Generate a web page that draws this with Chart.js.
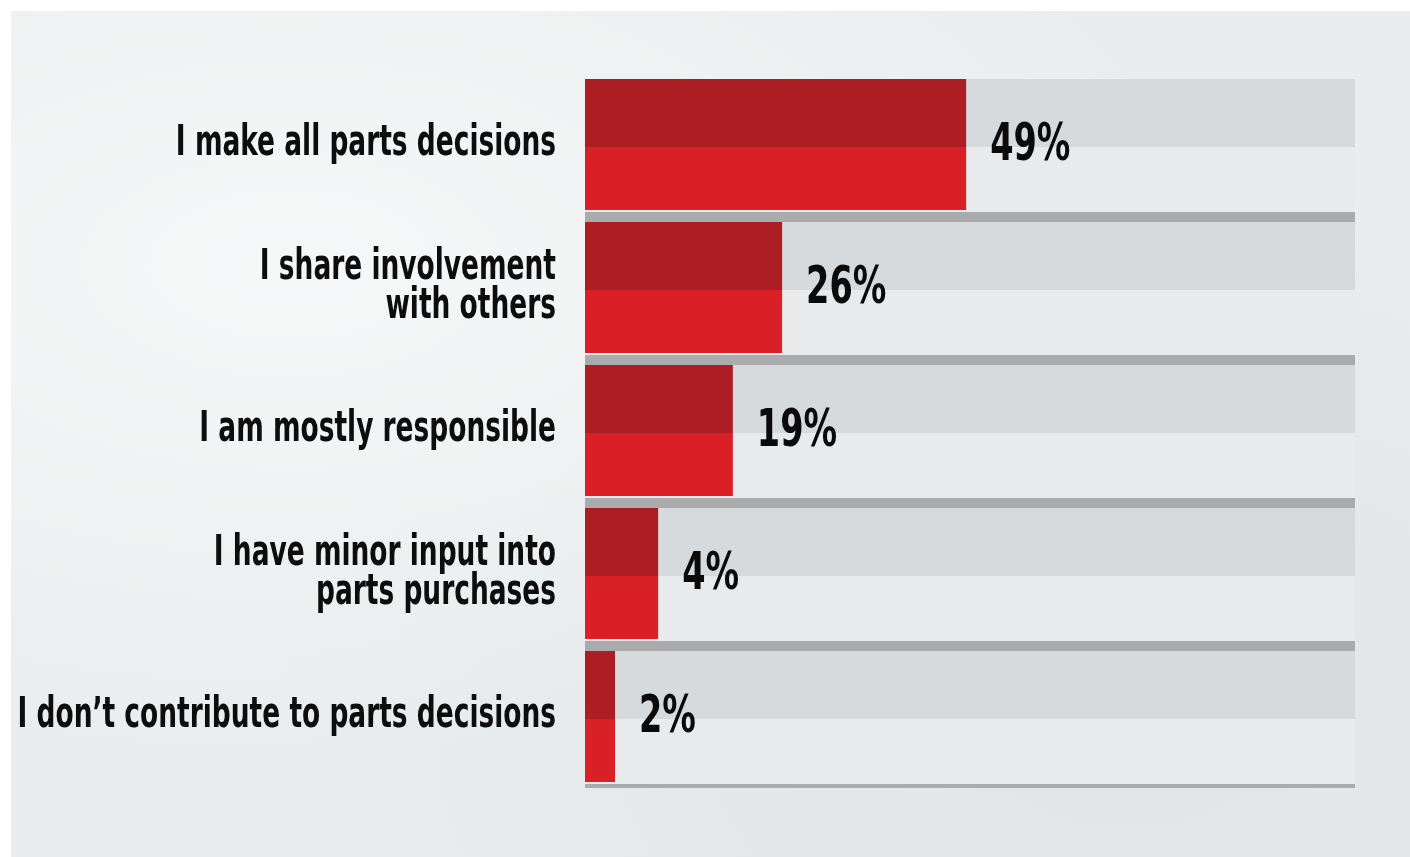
<!DOCTYPE html>
<html><head><meta charset="utf-8">
<script src="https://cdn.jsdelivr.net/npm/chart.js@4.4.1/dist/chart.umd.min.js"></script>
<style>
html,body{margin:0;padding:0;background:#ffffff;}
#wrap{position:relative;width:1410px;height:857px;overflow:hidden;}
#bg{position:absolute;left:11px;top:11px;right:0;bottom:0;
  background:
    radial-gradient(ellipse at 20% 30%, rgba(255,255,255,0.6), rgba(255,255,255,0) 60%),
    radial-gradient(ellipse at 80% 85%, rgba(210,214,218,0.35), rgba(210,214,218,0) 55%),
    #eaeced;}
#c{position:absolute;left:0;top:0;}
</style></head><body>
<div id="wrap"><div id="bg"></div><canvas id="c" width="1410" height="857"></canvas></div>
<script>
// ---- data ----
const categories = [
  "I make all parts decisions",
  ["I share involvement", "with others"],
  "I am mostly responsible",
  ["I have minor input into", "parts purchases"],
  "I don\u2019t contribute to parts decisions"
];
const percentValues = [49, 26, 19, 4, 2];            // printed values
const barLengths = [49.5, 25.6, 19.2, 9.5, 3.9];      // bar lengths as drawn in the picture (% of full track)
const trackValues = [100, 100, 100, 100, 100];        // full-width grey track

// ---- styles ----
const FONT = '"DejaVu Sans Condensed", "DejaVu Sans", sans-serif';
const LABEL_SX = 0.7;   // horizontal squeeze to mimic a condensed display face
const VALUE_SX = 0.73;
const RED_TOP = '#ad1e24', RED_BOTTOM = '#da2027';
const TRACK_TOP = '#d7dadd', TRACK_BOTTOM = '#e9eaeb', SHADOW = '#a9abad';

function bandInfo(ctx, pct) {
  const chart = ctx.chart;
  const area = chart.chartArea;
  if (!area) return null;
  const y = chart.scales.y.getPixelForValue(ctx.dataIndex);
  const band = (area.bottom - area.top) / categories.length;
  const h = band * pct;
  return {top: y - h / 2, bottom: y + h / 2};
}

function trackColor(ctx) {
  const b = bandInfo(ctx, 1);
  if (!b) return TRACK_BOTTOM;
  const g = ctx.chart.ctx.createLinearGradient(0, b.top, 0, b.bottom);
  const first = ctx.dataIndex === 0;
  const topCol = first ? 'rgba(0,0,0,0)' : SHADOW;
  g.addColorStop(0, topCol);
  g.addColorStop(0.042, topCol);
  g.addColorStop(0.042, TRACK_TOP);
  g.addColorStop(0.517, TRACK_TOP);
  g.addColorStop(0.517, TRACK_BOTTOM);
  g.addColorStop(0.972, TRACK_BOTTOM);
  g.addColorStop(0.972, SHADOW);
  g.addColorStop(1, SHADOW);
  return g;
}

function redColor(ctx) {
  const b = bandInfo(ctx, 0.916);
  if (!b) return RED_BOTTOM;
  const g = ctx.chart.ctx.createLinearGradient(0, b.top, 0, b.bottom);
  g.addColorStop(0, RED_TOP);
  g.addColorStop(0.52, RED_TOP);
  g.addColorStop(0.52, RED_BOTTOM);
  g.addColorStop(1, RED_BOTTOM);
  return g;
}

const valueLabels = {
  id: 'valueLabels',
  afterDatasetsDraw(chart) {
    const meta = chart.getDatasetMeta(1);
    const c = chart.ctx;
    meta.data.forEach((el, i) => {
      const x0 = el.x + 24;
      c.save();
      c.translate(x0, 0);
      c.scale(VALUE_SX, 1);
      c.font = 'bold 51px ' + FONT;
      c.fillStyle = '#0a0a0a';
      c.textAlign = 'left';
      c.textBaseline = 'middle';
      c.fillText(percentValues[i] + '%', 0, el.y + 2);
      c.restore();
    });
  }
};

new Chart(document.getElementById('c'), {
  type: 'bar',
  data: {
    labels: categories,
    datasets: [
      {
        label: 'track', data: trackValues, grouped: false, order: 2,
        barPercentage: 1, categoryPercentage: 1,
        backgroundColor: trackColor, borderWidth: 0
      },
      {
        label: 'share', data: barLengths, grouped: false, order: 1,
        barPercentage: 0.916, categoryPercentage: 1,
        backgroundColor: redColor, borderWidth: 0
      }
    ]
  },
  options: {
    indexAxis: 'y',
    responsive: false,
    animation: false,
    devicePixelRatio: 1,
    layout: {padding: {left: 0, right: 55, top: 73, bottom: 69}},
    plugins: {legend: {display: false}, tooltip: {enabled: false}},
    scales: {
      x: {min: 0, max: 100, display: false},
      y: {
        grid: {display: false, drawTicks: false},
        border: {display: false},
        afterFit(scale) {
          scale.width = 585;
          if (!scale._squeezed) {
            const orig = scale.drawLabels.bind(scale);
            scale._computeLabelArea = function () { return undefined; };
            scale.drawLabels = function (area) {
              const c = this.ctx, ax = 556;
              c.save();
              c.translate(ax, 0);
              c.scale(LABEL_SX, 1);
              c.translate(-ax, 0);
              orig(area);
              c.restore();
            };
            scale._squeezed = true;
          }
        },
        ticks: {
          padding: 29,
          color: '#0d0d0d',
          font: {family: FONT, size: 42, weight: 'bold', lineHeight: 0.92}
        }
      }
    }
  },
  plugins: [valueLabels]
});
</script>
</body></html>
